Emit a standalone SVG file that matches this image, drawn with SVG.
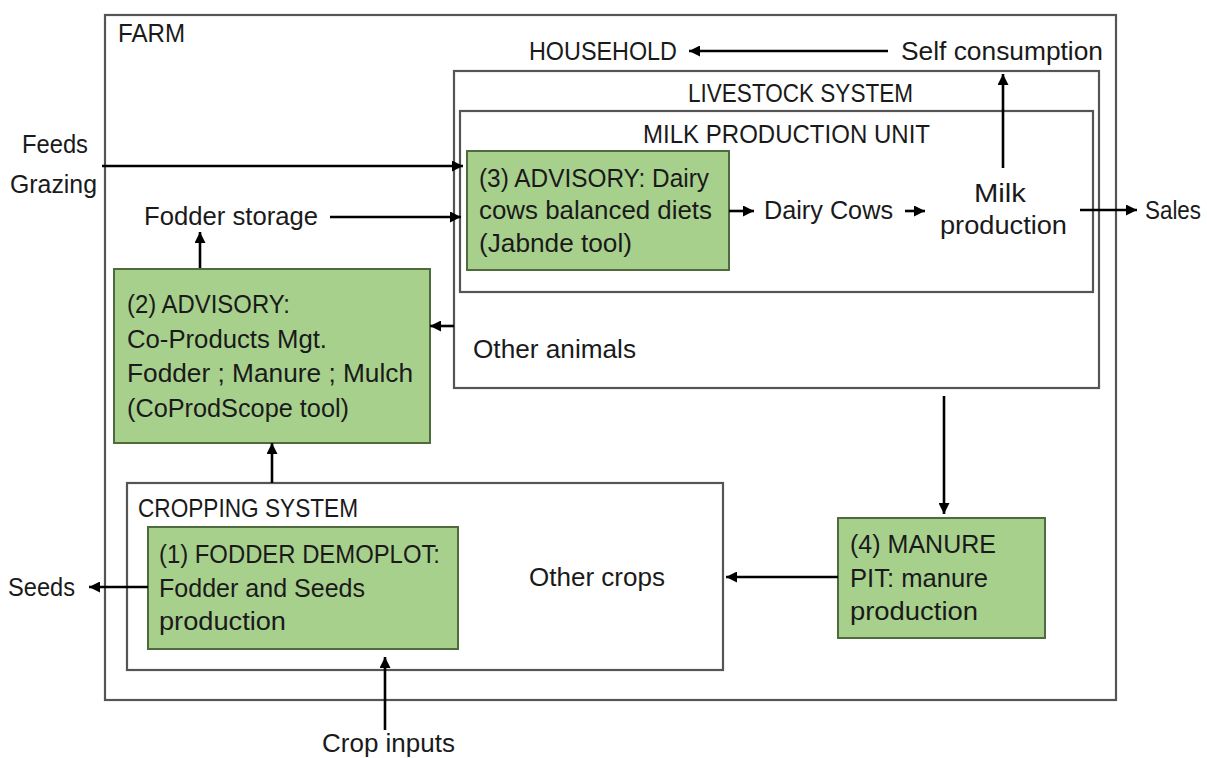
<svg xmlns="http://www.w3.org/2000/svg" width="1207" height="758" viewBox="0 0 1207 758">
<style>
text{font-family:"Liberation Sans",Arial,sans-serif;font-size:25px;fill:#1a1a1a}
.frame{fill:none;stroke:#555;stroke-width:2.2}
.green{fill:#a8d08d;stroke:#4f6b3e;stroke-width:2}
.conn{stroke:#000;stroke-width:2.6;fill:none;marker-end:url(#ah)}
</style>
<defs>
<marker id="ah" markerUnits="userSpaceOnUse" markerWidth="11" markerHeight="11" viewBox="0 0 10 10" refX="10" refY="5" orient="auto">
<path d="M0,0 L10,5 L0,10 z" fill="#000"/>
</marker>
</defs>
<rect width="1207" height="758" fill="#fff"/>

<g id="farm"><rect class="frame" x="105" y="15" width="1011" height="685"/>
<text x="118" y="42" textLength="67" lengthAdjust="spacingAndGlyphs">FARM</text></g>

<g id="household"><text x="529" y="60" textLength="148" lengthAdjust="spacingAndGlyphs">HOUSEHOLD</text></g>
<g id="self-consumption"><text x="901" y="60" textLength="202" lengthAdjust="spacingAndGlyphs">Self consumption</text></g>

<g id="livestock-system"><rect class="frame" x="454" y="71" width="645" height="317"/>
<text x="688" y="102" textLength="225" lengthAdjust="spacingAndGlyphs">LIVESTOCK SYSTEM</text></g>

<g id="milk-production-unit"><rect class="frame" x="460" y="111" width="633" height="181"/>
<text x="643" y="143" textLength="287" lengthAdjust="spacingAndGlyphs">MILK PRODUCTION UNIT</text></g>

<g id="feeds"><text x="22" y="153" textLength="66" lengthAdjust="spacingAndGlyphs">Feeds</text>
<text x="10" y="193" textLength="87" lengthAdjust="spacingAndGlyphs">Grazing</text></g>

<g id="fodder-storage"><text x="144" y="225" textLength="174" lengthAdjust="spacingAndGlyphs">Fodder storage</text></g>

<g id="advisory-3"><rect class="green" x="467" y="151" width="262" height="119"/>
<text x="479" y="187" textLength="230" lengthAdjust="spacingAndGlyphs">(3) ADVISORY: Dairy</text>
<text x="479" y="219" textLength="233" lengthAdjust="spacingAndGlyphs">cows balanced diets</text>
<text x="479" y="252" textLength="153" lengthAdjust="spacingAndGlyphs">(Jabnde tool)</text></g>

<g id="dairy-cows"><text x="764" y="219" textLength="129" lengthAdjust="spacingAndGlyphs">Dairy Cows</text></g>

<g id="milk-production"><text x="974" y="202" textLength="52" lengthAdjust="spacingAndGlyphs">Milk</text>
<text x="940" y="234" textLength="127" lengthAdjust="spacingAndGlyphs">production</text></g>

<g id="sales"><text x="1145" y="219" textLength="56" lengthAdjust="spacingAndGlyphs">Sales</text></g>

<g id="advisory-2"><rect class="green" x="114" y="269" width="316" height="174"/>
<text x="127" y="313" textLength="163" lengthAdjust="spacingAndGlyphs">(2) ADVISORY:</text>
<text x="127" y="348" textLength="200" lengthAdjust="spacingAndGlyphs">Co-Products Mgt.</text>
<text x="127" y="382" textLength="286" lengthAdjust="spacingAndGlyphs">Fodder ; Manure ; Mulch</text>
<text x="127" y="417" textLength="222" lengthAdjust="spacingAndGlyphs">(CoProdScope tool)</text></g>

<g id="other-animals"><text x="473" y="358" textLength="163" lengthAdjust="spacingAndGlyphs">Other animals</text></g>

<g id="cropping-system"><rect class="frame" x="127" y="483" width="596" height="187"/>
<text x="138" y="517" textLength="220" lengthAdjust="spacingAndGlyphs">CROPPING SYSTEM</text></g>

<g id="fodder-demoplot"><rect class="green" x="148" y="527" width="310" height="122"/>
<text x="159" y="563" textLength="281" lengthAdjust="spacingAndGlyphs">(1) FODDER DEMOPLOT:</text>
<text x="159" y="597" textLength="206" lengthAdjust="spacingAndGlyphs">Fodder and Seeds</text>
<text x="159" y="630" textLength="127" lengthAdjust="spacingAndGlyphs">production</text></g>

<g id="seeds"><text x="8" y="596" textLength="67" lengthAdjust="spacingAndGlyphs">Seeds</text></g>

<g id="other-crops"><text x="529" y="586" textLength="136" lengthAdjust="spacingAndGlyphs">Other crops</text></g>

<g id="manure-pit"><rect class="green" x="838" y="518" width="207" height="120"/>
<text x="850" y="553" textLength="146" lengthAdjust="spacingAndGlyphs">(4) MANURE</text>
<text x="850" y="587" textLength="138" lengthAdjust="spacingAndGlyphs">PIT: manure</text>
<text x="850" y="620" textLength="128" lengthAdjust="spacingAndGlyphs">production</text></g>

<g id="crop-inputs"><text x="322" y="752" textLength="133" lengthAdjust="spacingAndGlyphs">Crop inputs</text></g>

<g id="connectors">
<line class="conn" x1="888" y1="51" x2="689" y2="51"/>
<line class="conn" x1="1003" y1="168" x2="1003" y2="74"/>
<line class="conn" x1="102" y1="166" x2="463" y2="166"/>
<line class="conn" x1="330" y1="217" x2="461" y2="217"/>
<line class="conn" x1="200" y1="268" x2="200" y2="232"/>
<line class="conn" x1="454" y1="326" x2="430" y2="326"/>
<line class="conn" x1="272" y1="483" x2="272" y2="443"/>
<line class="conn" x1="729" y1="211" x2="754" y2="211"/>
<line class="conn" x1="905" y1="211" x2="925" y2="211"/>
<line class="conn" x1="1080" y1="210" x2="1137" y2="210"/>
<line class="conn" x1="944" y1="396" x2="944" y2="514"/>
<line class="conn" x1="838" y1="577" x2="726" y2="577"/>
<line class="conn" x1="148" y1="587" x2="89" y2="587"/>
<line class="conn" x1="385" y1="730" x2="385" y2="657"/>
</g>
</svg>
